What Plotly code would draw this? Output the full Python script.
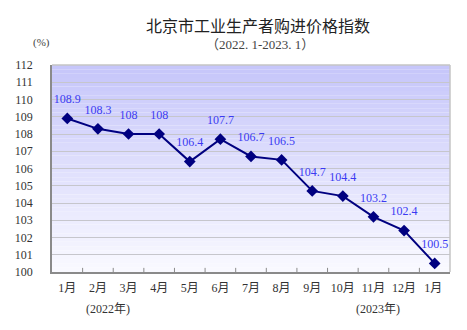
import plotly.graph_objects as go

# Purchase price index of industrial producers, Beijing, Jan 2022 - Jan 2023
months = ["1月", "2月", "3月", "4月", "5月", "6月", "7月",
          "8月", "9月", "10月", "11月", "12月", "1月 "]
index_values = [108.9, 108.3, 108.0, 108.0, 106.4, 107.7, 106.7,
                106.5, 104.7, 104.4, 103.2, 102.4, 100.5]
y_ticks = list(range(100, 113))

SERIF = "Liberation Serif, Noto Sans CJK SC, serif"
NAVY = "#000080"
xs = list(range(len(months)))

fig = go.Figure()

fig.add_trace(go.Scatter(
    x=xs, y=index_values,
    mode="lines+markers",
    line=dict(color=NAVY, width=2),
    marker=dict(symbol="diamond", size=9, color=NAVY),
    hoverinfo="skip",
))
# value labels, lifted clear of the markers by a larger invisible marker
fig.add_trace(go.Scatter(
    x=xs, y=index_values,
    mode="markers+text",
    marker=dict(size=18, opacity=0),
    text=[f"{v:g}" for v in index_values],
    textposition="top center",
    textfont=dict(family=SERIF, size=12, color="#3a3af2"),
    cliponaxis=False,
    hoverinfo="skip",
))

# vertical gradient behind the plot area (light violet fading to white)
shapes = []
n = 48
top_c = (198, 198, 250)
bot_c = (249, 249, 255)
for i in range(n):
    t = i / (n - 1)
    c = tuple(round(top_c[k] + (bot_c[k] - top_c[k]) * t) for k in range(3))
    shapes.append(dict(
        type="rect", xref="paper", yref="paper",
        x0=0, x1=1, y0=1 - (i + 1) / n, y1=1 - i / n,
        fillcolor=f"rgb{c}", line=dict(width=0), layer="below",
    ))
# plot frame: light top/right edges
shapes.append(dict(type="line", xref="paper", yref="paper", x0=0, x1=1, y0=1, y1=1,
                   line=dict(color="#c4c4c4", width=1.5)))
shapes.append(dict(type="line", xref="paper", yref="paper", x0=1, x1=1, y0=0, y1=1,
                   line=dict(color="#c4c4c4", width=1.5)))

fig.update_layout(
    width=467, height=330,
    margin=dict(l=52, r=17, t=65, b=58),
    paper_bgcolor="white",
    plot_bgcolor="rgba(0,0,0,0)",
    showlegend=False,
    shapes=shapes,
    xaxis=dict(
        type="linear",
        range=[-0.5, len(months) - 0.5],
        tickmode="array",
        tickvals=xs,
        ticktext=months,
        showgrid=False, zeroline=False,
        showline=True, linecolor="#8a8a8a", linewidth=1.5,
        ticks="", tickfont=dict(family=SERIF, size=12, color="#333333"),
        ticklabelstandoff=4,
        fixedrange=True,
    ),
    yaxis=dict(
        range=[100, 112],
        tickmode="array",
        tickvals=y_ticks,
        showgrid=True, gridcolor="#c6c6cc", gridwidth=1.2,
        zeroline=False,
        showline=True, linecolor="#8a8a8a", linewidth=1.5,
        ticks="", tickfont=dict(family=SERIF, size=12, color="#333333"),
        ticklabelstandoff=15,
        fixedrange=True,
    ),
)

# small inward tick marks on the category boundaries
for b in range(1, len(months)):
    fig.add_shape(type="line", xref="x", yref="paper",
                  x0=b - 0.5, x1=b - 0.5, y0=0, y1=0.02,
                  line=dict(color="#8a8a8a", width=1))


def note(text, px, py, size, color, family=SERIF):
    fig.add_annotation(text=text, xref="paper", yref="paper",
                       x=(px - 52) / 398, y=(272 - py) / 207,
                       xanchor="center", yanchor="middle", showarrow=False,
                       font=dict(family=family, size=size, color=color))


note("北京市工业生产者购进价格指数", 258, 25, 16, "#222222", "Noto Sans CJK SC")
note("（2022. 1-2023. 1）", 260, 44, 13, "#444444")
note("(%)", 41, 43, 11, "#444444")
note("(2022年)", 108, 309, 12, "#333333")
note("(2023年)", 378, 309, 12, "#333333")

fig.write_html("out.html")
